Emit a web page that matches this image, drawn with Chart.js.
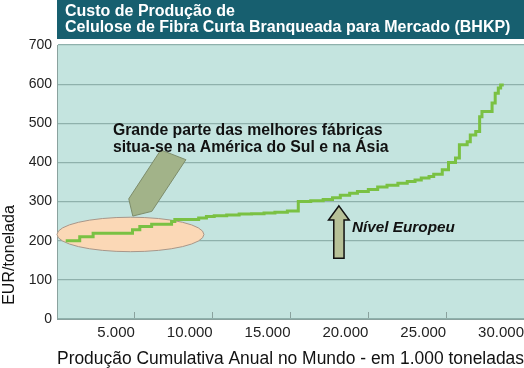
<!DOCTYPE html>
<html>
<head>
<meta charset="utf-8">
<script src="https://cdn.jsdelivr.net/npm/chart.js@4.4.1/dist/chart.umd.min.js"></script>
<style>
  html, body { margin: 0; padding: 0; background: #fff; }
  #wrap { width: 524px; height: 368px; }
</style>
</head>
<body>
<div id="wrap"><canvas id="custoChart" width="524" height="368"></canvas></div>
<script>
// produção cumulativa (mil t) e custo (EUR/t)
const producao = [560, 1460, 2320, 4850, 5320, 6080, 7360, 7570, 9100, 9600,
  10100, 10900, 11700, 12500, 13300, 14000, 14800,
  15500, 16300, 17100, 17700, 18200, 18800, 19300, 20000, 20600, 21200,
  21900, 22500, 23000, 23400, 23900, 24200,
  24750, 25150, 25600, 25850, 26350, 26550, 26900, 27150,
  27300, 27950, 28150, 28350, 28500, 28700];
const custo = [200, 210, 219, 228, 236, 242, 249, 254, 258, 262,
  264, 266, 268, 269, 271, 273, 276,
  300, 302, 305, 310, 316, 321, 326, 331, 337, 342,
  347, 351, 355, 360, 364, 370,
  381, 400, 411, 445, 453, 470, 479, 517,
  530, 552, 577, 590, 598, 598];
const xTicks = [5000, 10000, 15000, 20000, 25000, 30000];
const yTicks = [0, 100, 200, 300, 400, 500, 600, 700];

const titulo = ['Custo de Produção de', 'Celulose de Fibra Curta Branqueada para Mercado (BHKP)'];
const tituloY = 'EUR/tonelada';
const tituloX = 'Produção Cumulativa Anual no Mundo - em 1.000 toneladas';
const notaAmerica = ['Grande parte das melhores fábricas', 'situa-se na América do Sul e na Ásia'];
const notaEuropa = 'Nível Europeu';

// anotações em unidades dos eixos
const balao = { x: 4720, y: 216, rx: 4720, ry: 44 };
const setaGrande = [[6670, 432], [8280, 407], [6090, 275], [4870, 263], [4610, 307]];
const setaEuropa = { x: 18110, topo: 289, base: 253, cabeca: 665, haste: 330, fim: 155 };
const posAmerica = { x: 3590, y: [480, 437] };
const posEuropa = { x: 18950, y: 233 };

const FONTE = 'Arial, "Liberation Sans", sans-serif';

function milhar(v) {
  return String(v).replace(/\B(?=(\d{3})+(?!\d))/g, '.');
}

const decor = {
  id: 'decor',
  beforeDraw(chart) {
    const { ctx, chartArea: a } = chart;
    ctx.save();
    ctx.fillStyle = '#fff';
    ctx.fillRect(0, 0, chart.width, chart.height);
    ctx.fillStyle = '#c4e4df';
    ctx.fillRect(a.left, a.top, a.right - a.left, a.bottom - a.top);
    // faixa do título
    ctx.fillStyle = '#175f6f';
    ctx.fillRect(a.left, 0, chart.width - a.left, 39);
    ctx.fillStyle = '#fff';
    ctx.font = 'bold 16px ' + FONTE;
    ctx.textBaseline = 'middle';
    titulo.forEach((t, i) => ctx.fillText(t, a.left + 8, 12 + i * 15.5));
    // título do eixo y
    ctx.translate(10, 255);
    ctx.rotate(-Math.PI / 2);
    ctx.fillStyle = '#111';
    ctx.font = '16px ' + FONTE;
    ctx.textAlign = 'center';
    ctx.fillText(tituloY, 0, 0);
    ctx.restore();
  },
  beforeDatasetsDraw(chart) {
    const { ctx, scales: { x, y } } = chart;
    const cx = x.getPixelForValue(balao.x), cy = y.getPixelForValue(balao.y);
    const rx = x.getPixelForValue(balao.x + balao.rx) - cx;
    const ry = cy - y.getPixelForValue(balao.y + balao.ry);
    ctx.save();
    ctx.beginPath();
    ctx.ellipse(cx, cy, rx, ry, 0, 0, Math.PI * 2);
    ctx.fillStyle = '#fbd8b6';
    ctx.fill();
    ctx.strokeStyle = '#a8978a';
    ctx.lineWidth = 1;
    ctx.stroke();
    ctx.restore();
  },
  afterDatasetsDraw(chart) {
    const { ctx, scales: { x, y } } = chart;
    ctx.save();
    // seta grande
    ctx.beginPath();
    setaGrande.forEach(([px, py], i) => {
      const X = x.getPixelForValue(px), Y = y.getPixelForValue(py);
      i ? ctx.lineTo(X, Y) : ctx.moveTo(X, Y);
    });
    ctx.closePath();
    ctx.fillStyle = '#a2b389';
    ctx.fill();
    ctx.strokeStyle = '#7d8c6a';
    ctx.lineWidth = 1;
    ctx.stroke();

    // seta nível europeu
    const s = setaEuropa;
    const pts = [
      [s.x, s.topo], [s.x + s.cabeca, s.base], [s.x + s.haste, s.base],
      [s.x + s.haste, s.fim], [s.x - s.haste, s.fim], [s.x - s.haste, s.base],
      [s.x - s.cabeca, s.base]
    ];
    ctx.beginPath();
    pts.forEach(([px, py], i) => {
      const X = x.getPixelForValue(px), Y = y.getPixelForValue(py);
      i ? ctx.lineTo(X, Y) : ctx.moveTo(X, Y);
    });
    ctx.closePath();
    ctx.fillStyle = '#b7c198';
    ctx.fill();
    ctx.strokeStyle = '#111';
    ctx.lineWidth = 1.5;
    ctx.stroke();

    // textos
    ctx.fillStyle = '#111';
    ctx.textBaseline = 'middle';
    ctx.font = 'bold 15.8px ' + FONTE;
    notaAmerica.forEach((t, i) =>
      ctx.fillText(t, x.getPixelForValue(posAmerica.x), y.getPixelForValue(posAmerica.y[i])));
    ctx.font = 'italic bold 15.3px ' + FONTE;
    ctx.fillText(notaEuropa, x.getPixelForValue(posEuropa.x), y.getPixelForValue(posEuropa.y));
    ctx.restore();
  }
};

const ctx = document.getElementById('custoChart').getContext('2d');
new Chart(ctx, {
  type: 'line',
  data: {
    datasets: [{
      data: producao.map((p, i) => ({ x: p, y: custo[i] })),
      borderColor: '#7ac143',
      borderWidth: 3,
      pointRadius: 0,
      stepped: 'before',
      fill: false
    }]
  },
  options: {
    responsive: false,
    animation: false,
    layout: { padding: { top: 45, left: 0, right: 0, bottom: 0 } },
    plugins: {
      legend: { display: false },
      tooltip: { enabled: false },
      title: { display: false }
    },
    scales: {
      x: {
        type: 'linear',
        min: 0,
        max: 30000,
        afterBuildTicks: s => { s.ticks = xTicks.map(v => ({ value: v })); },
        afterFit: s => { s.height = 49; s.paddingLeft = 0; s.paddingRight = 0; },
        grid: { drawOnChartArea: false, drawTicks: true, tickLength: -7, color: '#8aa29e', lineWidth: 1 },
        border: { color: '#8aa29e' },
        ticks: {
          align: 'end',
          padding: 12,
          color: '#222',
          font: { family: FONTE, size: 15 },
          callback: v => milhar(v)
        },
        title: {
          display: true,
          text: tituloX,
          color: '#111',
          font: { family: FONTE, size: 17.5, lineHeight: 1 },
          padding: { top: 0, bottom: 0 }
        }
      },
      y: {
        min: 0,
        max: 700,
        afterBuildTicks: s => { s.ticks = yTicks.map(v => ({ value: v })); },
        afterFit: s => { s.width = 57; },
        grid: { color: '#8fb1ac', lineWidth: 1.2, drawTicks: false },
        border: { color: '#8aa29e' },
        ticks: {
          padding: 5,
          color: '#222',
          font: { family: FONTE, size: 14 }
        }
      }
    }
  },
  plugins: [decor]
});
</script>
</body>
</html>
